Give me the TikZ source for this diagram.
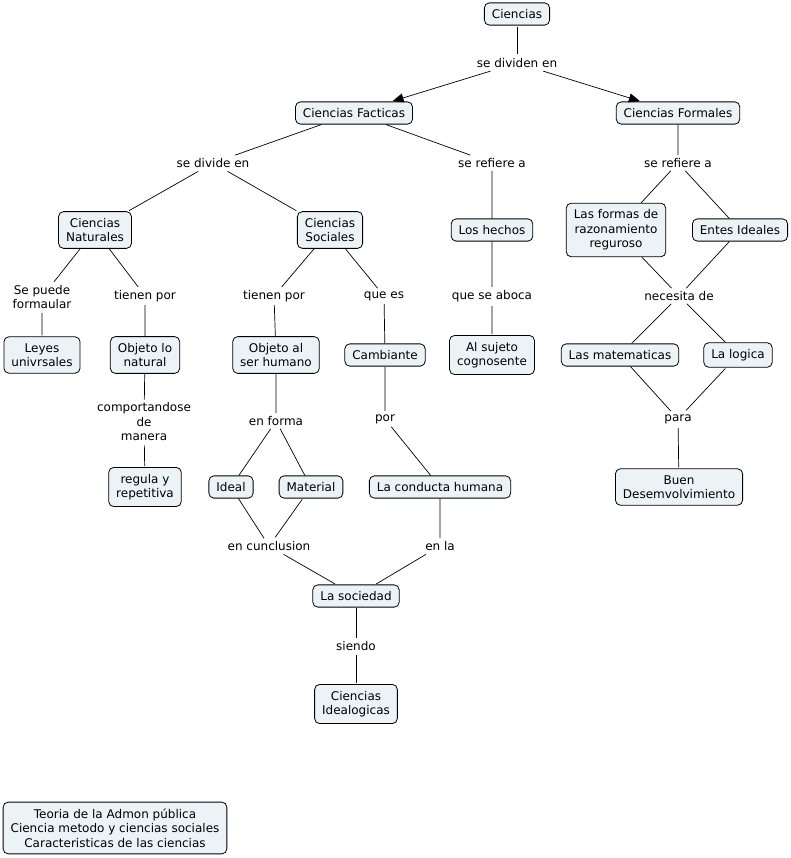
\documentclass[tikz,border=0pt]{standalone}
\usepackage{fontspec}
\setmainfont{DejaVu Sans}
\usetikzlibrary{arrows.meta}
\definecolor{cbox}{RGB}{236,243,246}
\tikzset{
  concept/.style={draw=black, fill=cbox, rounded corners=5pt, line width=0.8pt,
    inner xsep=7.5pt, inner ysep=6.5pt, align=center},
  phrase/.style={inner sep=3pt, align=center},
  link/.style={line width=0.7pt, shorten <=1pt, shorten >=1pt},
  arr/.style={link, -{Triangle[length=11pt,width=9pt]}}
}
\begin{document}
\begin{tikzpicture}[x=1pt, y=1pt, font=\fontsize{12}{14.5}\selectfont]
\useasboundingbox (0,0) rectangle (791,-858);

% concepts
\node[concept] (cien) at (517,-14) {Ciencias};
\node[concept] (fact) at (354,-113) {Ciencias Facticas};
\node[concept] (form) at (678,-113) {Ciencias Formales};
\node[concept] (nat) at (95,-230) {Ciencias\\Naturales};
\node[concept] (soc) at (330,-230) {Ciencias\\Sociales};
\node[concept] (hech) at (492,-230) {Los hechos};
\node[concept] (razo) at (616,-230) {Las formas de\\razonamiento\\reguroso};
\node[concept] (ente) at (740,-230) {Entes Ideales};
\node[concept] (leye) at (42,-355) {Leyes\\univrsales};
\node[concept] (obnat) at (145,-355) {Objeto lo\\natural};
\node[concept] (obhum) at (276,-355) {Objeto al\\ser humano};
\node[concept] (camb) at (385,-355) {Cambiante};
\node[concept] (suje) at (492,-355) {Al sujeto\\cognosente};
\node[concept] (mat) at (620,-355) {Las matematicas};
\node[concept] (logi) at (738,-355) {La logica};
\node[concept] (regu) at (145,-487) {regula y\\repetitiva};
\node[concept] (idea) at (231,-487) {Ideal};
\node[concept] (mtrl) at (311,-487) {Material};
\node[concept] (cond) at (440,-487) {La conducta humana};
\node[concept] (buen) at (679,-487) {Buen\\Desemvolvimiento};
\node[concept] (socd) at (356,-596) {La sociedad};
\node[concept] (ideo) at (356,-704) {Ciencias\\Idealogicas};
\node[concept] (foot) at (115,-828) {Teoria de la Admon pública\\Ciencia metodo y ciencias sociales\\Caracteristicas de las ciencias};

% linking phrases
\node[phrase] (divs) at (517,-63) {se dividen en};
\node[phrase] (divf) at (213,-163) {se divide en};
\node[phrase] (reff) at (492,-163) {se refiere a};
\node[phrase] (refm) at (678,-163) {se refiere a};
\node[phrase] (pued) at (42,-297) {Se puede\\formaular};
\node[phrase] (tnat) at (145,-296) {tienen por};
\node[phrase] (tsoc) at (274,-296) {tienen por};
\node[phrase] (quees) at (384,-296) {que es};
\node[phrase] (aboc) at (492,-296) {que se aboca};
\node[phrase] (nece) at (679,-296) {necesita de};
\node[phrase] (comp) at (144,-422) {comportandose\\de\\manera};
\node[phrase] (enfo) at (276,-421) {en forma};
\node[phrase] (por) at (385,-419) {por};
\node[phrase] (para) at (678,-419) {para};
\node[phrase] (conc) at (269,-546) {en cunclusion};
\node[phrase] (enla) at (440,-546) {en la};
\node[phrase] (sien) at (356,-646) {siendo};

% connectors
\draw[link] (cien) -- (divs);
\draw[arr] (divs) -- (fact);
\draw[arr] (divs) -- (form);
\draw[link] (fact) -- (divf) -- (nat);
\draw[link] (divf) -- (soc);
\draw[link] (fact) -- (reff) -- (hech) -- (aboc) -- (suje);
\draw[link] (form) -- (refm) -- (razo) -- (nece) -- (mat) -- (para) -- (buen);
\draw[link] (refm) -- (ente) -- (nece) -- (logi) -- (para);
\draw[link] (nat) -- (pued) -- (leye);
\draw[link] (nat) -- (tnat) -- (obnat) -- (comp) -- (regu);
\draw[link] (soc) -- (tsoc) -- (obhum) -- (enfo) -- (idea) -- (conc) -- (socd);
\draw[link] (enfo) -- (mtrl) -- (conc);
\draw[link] (soc) -- (quees) -- (camb) -- (por) -- (cond) -- (enla) -- (socd);
\draw[link] (socd) -- (sien) -- (ideo);

\end{tikzpicture}
\end{document}
